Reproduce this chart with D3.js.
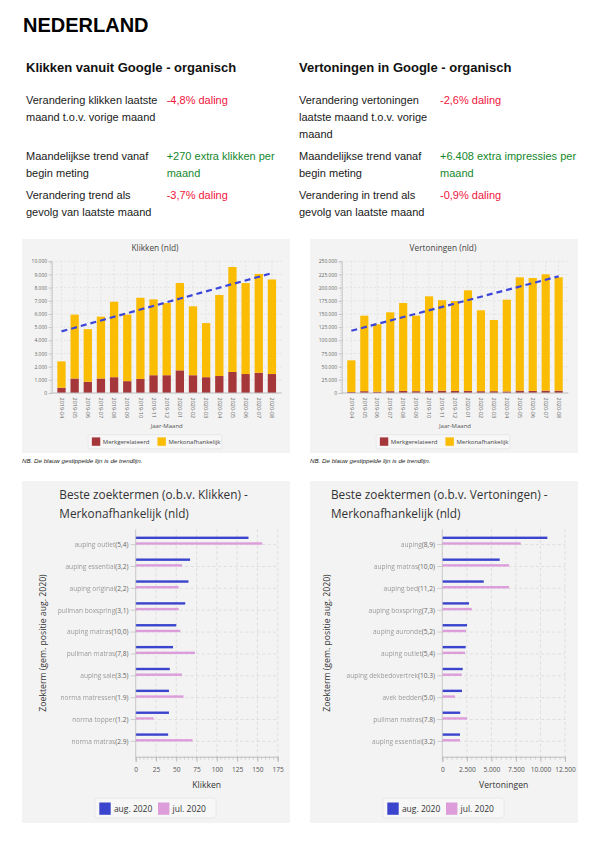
<!DOCTYPE html>
<html><head><meta charset="utf-8">
<script src="https://cdn.jsdelivr.net/npm/d3@7"></script>
<style>
html,body{margin:0;padding:0;background:#fff;}
svg{display:block;}
</style></head>
<body>
<svg id="c" width="607" height="847"></svg>
<script>
// ---------------- DATA ----------------
const pageTitle = "NEDERLAND";
const leftHeading = "Klikken vanuit Google - organisch";
const rightHeading = "Vertoningen in Google - organisch";
const leftLabels = [["Verandering klikken laatste","maand t.o.v. vorige maand"],["Maandelijkse trend vanaf","begin meting"],["Verandering trend als","gevolg van laatste maand"]];
const leftValues = [["-4,8% daling"],["+270 extra klikken per","maand"],["-3,7% daling"]];
const rightLabels = [["Verandering vertoningen","laatste maand t.o.v. vorige","maand"],["Maandelijkse trend vanaf","begin meting"],["Verandering in trend als","gevolg van laatste maand"]];
const rightValues = [["-2,6% daling"],["+6.408 extra impressies per","maand"],["-0,9% daling"]];
const valueSigns = ["neg","pos","neg"];

const months = ["2019-04","2019-05","2019-06","2019-07","2019-08","2019-09","2019-10","2019-11","2019-12","2020-01","2020-02","2020-03","2020-04","2020-05","2020-06","2020-07","2020-08"];
const clicksBrand    = [400,1100,850,1100,1200,900,1070,1350,1350,1720,1350,1200,1290,1600,1440,1540,1440];
const clicksNonBrand = [2000,4850,4000,4700,5730,5050,6160,5760,5480,6630,5230,4110,6150,7970,6910,7500,7180];
const clicksTrend    = [4680, 9100];
const imprBrand      = [2000,3500,2500,3500,4000,3500,4000,4500,4000,4000,3500,3500,3000,4500,4000,4500,4500];
const imprNonBrand   = [60000,143200,127900,149700,166800,143200,179500,171700,170600,190900,153500,135100,174100,215100,214300,220800,215100];
const imprTrend      = [118200, 221500];
const stackSeries = ["Merkgerelateerd","Merkonafhankelijk"];
const noteText = "NB. De blauw gestippelde lijn is de trendlijn.";

const kwClickTerms = ["auping outlet","auping essential","auping original","pullman boxspring","auping matras","pullman matras","auping sale","norma matressen","norma topper","norma matras"];
const kwClickPos   = ["5,4","3,2","2,2","3,1","10,0","7,8","3.5","1.9","1.2","2.9"];
const kwClickAug   = [139,67,65,61,50,46,42,41,41,40];
const kwClickJul   = [156,57,53,53,55,73,57,59,22,70];
const kwImprTerms  = ["auping","auping matras","auping bed","auping boxspring","auping auronde","auping outlet","auping dekbedovertrek","avek bedden","pullman matras","auping essential"];
const kwImprPos    = ["8,9","10,0","11,2","7,3","5,2","5,4","10.3","5.0","7.8","3.2"];
const kwImprAug    = [10700,5850,4220,2720,2520,2380,2080,2010,1830,1800];
const kwImprJul    = [7990,6800,6800,3000,2410,2310,1980,1290,2520,1800];
const periodLabels = ["aug. 2020","jul. 2020"];

// ---------------- DRAWING ----------------
const nl = d3.formatLocale({decimal:",", thousands:".", grouping:[3], currency:["",""]});
const fmt = nl.format(",");
const svg = d3.select("#c");
const defs = svg.append("defs");
defs.append("filter").attr("id","blur").attr("x","-5%").attr("y","-20%").attr("width","110%").attr("height","140%")
  .append("feGaussianBlur").attr("stdDeviation",0.45);

const ARIAL = "'Liberation Sans', Arial, sans-serif";
const SANS = "'Open Sans', 'Noto Sans', sans-serif";

svg.append("text").attr("x",23).attr("y",31.7).text(pageTitle)
  .attr("font-family",ARIAL).attr("font-weight","bold").attr("font-size",20).attr("fill","#000");

function drawTable(xl, xv, heading, labels, values) {
  svg.append("text").attr("x",xl).attr("y",71.7).text(heading)
    .attr("font-family",ARIAL).attr("font-weight","bold").attr("font-size",13).attr("fill","#111");
  const rowY = [104.3, 160.3, 199];
  const lh = 16.7;
  labels.forEach((lines,i)=>{
    lines.forEach((t,j)=>{
      svg.append("text").attr("x",xl).attr("y",rowY[i]+j*lh).text(t)
        .attr("font-family",ARIAL).attr("font-size",11).attr("fill","#1a1a1a");
    });
    values[i].forEach((t,j)=>{
      svg.append("text").attr("x",xv).attr("y",rowY[i]+j*lh).text(t)
        .attr("font-family",ARIAL).attr("font-size",11)
        .attr("fill", valueSigns[i]==="neg" ? "#f0143c" : "#16882e");
    });
  });
}
drawTable(26, 166.7, leftHeading, leftLabels, leftValues);
drawTable(299, 440, rightHeading, rightLabels, rightValues);

const C_BRAND = "#a5373a", C_NON = "#fbbc04", C_TREND = "#3c46d8";

function stackChart(cfg) {
  const g = svg.append("g");
  const [px,py,pw,ph] = cfg.panel;
  g.append("rect").attr("x",px).attr("y",py).attr("width",pw).attr("height",ph).attr("fill","#f3f3f3");
  g.append("text").attr("x",px+pw/2-1).attr("y",251.3).attr("text-anchor","middle").text(cfg.title)
    .attr("font-family",SANS).attr("font-size",8.3).attr("fill","#444");
  const x = d3.scaleBand().domain(months).range(cfg.xr).paddingInner(0.37).paddingOuter(0.43);
  const y = d3.scaleLinear().domain([0,cfg.max]).range([393,261.3]);
  const ticks = d3.range(0, cfg.max+1, cfg.step);
  // grid
  g.append("g").selectAll("line").data(ticks.slice(1)).join("line")
    .attr("x1",cfg.xr[0]).attr("x2",cfg.xr[1]).attr("y1",d=>y(d)).attr("y2",d=>y(d))
    .attr("stroke","#d9d9d9").attr("stroke-width",0.6).attr("stroke-dasharray","2,2");
  g.append("g").selectAll("line").data(months).join("line")
    .attr("x1",d=>x(d)+x.bandwidth()/2).attr("x2",d=>x(d)+x.bandwidth()/2).attr("y1",y(cfg.max)).attr("y2",y(0))
    .attr("stroke","#d9d9d9").attr("stroke-width",0.6).attr("stroke-dasharray","2,2");
  // y axis
  const ya = g.append("g").attr("transform",`translate(${cfg.xr[0]},0)`)
    .call(d3.axisLeft(y).tickValues(ticks).tickFormat(d=>fmt(d)).tickSize(3).tickPadding(1.5));
  ya.select(".domain").attr("stroke","#c4c4c4");
  ya.selectAll(".tick line").attr("stroke","#c4c4c4");
  ya.selectAll("text").attr("font-family",SANS).attr("font-size",5).attr("fill","#666");
  g.append("g").selectAll("line").data(d3.range(0,cfg.max+1,cfg.minor)).join("line")
    .attr("x1",cfg.xr[0]-1.8).attr("x2",cfg.xr[0]).attr("y1",d=>y(d)).attr("y2",d=>y(d))
    .attr("stroke","#c4c4c4").attr("stroke-width",0.5);
  // stacked bars
  const rows = months.map((m,i)=>({m, b:cfg.brand[i], n:cfg.non[i]}));
  g.append("g").selectAll("rect").data(rows).join("rect")
    .attr("x",d=>x(d.m)).attr("width",x.bandwidth())
    .attr("y",d=>y(d.b)).attr("height",d=>y(0)-y(d.b)).attr("fill",C_BRAND);
  g.append("g").selectAll("rect").data(rows).join("rect")
    .attr("x",d=>x(d.m)).attr("width",x.bandwidth())
    .attr("y",d=>y(d.b+d.n)).attr("height",d=>y(d.b)-y(d.b+d.n)).attr("fill",C_NON);
  // x axis
  const xa = g.append("g").attr("transform","translate(0,393)")
    .call(d3.axisBottom(x).tickSize(0).tickPadding(0));
  xa.select(".domain").attr("stroke","#bdbdbd").attr("d",`M${cfg.xr[0]},0H${cfg.xr[1]}`);
  xa.selectAll("text").attr("font-family",SANS).attr("font-size",5.5).attr("fill","#666")
    .attr("text-anchor","start").attr("dy","0.32em").attr("y",0).attr("x",0)
    .attr("transform","translate(0,4.5) rotate(90)");
  // trend
  const first = months[0], last = months[months.length-1];
  const tr = [{m:first,v:cfg.trend[0]},{m:last,v:cfg.trend[1]}];
  g.append("path").datum(tr)
    .attr("d", d3.line().x(d=>x(d.m)+x.bandwidth()/2).y(d=>y(d.v)))
    .attr("stroke",C_TREND).attr("stroke-width",2.2).attr("stroke-dasharray","6,4").attr("fill","none");
  // axis title
  g.append("text").attr("x",(cfg.xr[0]+cfg.xr[1])/2).attr("y",428).attr("text-anchor","middle").text("Jaar-Maand")
    .attr("font-family",SANS).attr("font-size",6).attr("fill","#555");
  // legend
  const cx = px+pw/2 - 1;
  const bw = 133.7;
  const lx = cx - bw/2;
  g.append("rect").attr("x",lx).attr("y",434.7).attr("width",bw).attr("height",14).attr("rx",1.5)
    .attr("fill","#f7f7f7").attr("stroke","#e0e0e0").attr("stroke-width",0.6);
  const items = [{t:stackSeries[0],c:C_BRAND,dx:3.7},{t:stackSeries[1],c:C_NON,dx:69.3}];
  items.forEach(it=>{
    g.append("rect").attr("x",lx+it.dx).attr("y",437.4).attr("width",8.4).attr("height",8.4).attr("fill",it.c);
    g.append("text").attr("x",lx+it.dx+11).attr("y",443.7).text(it.t)
      .attr("font-family",SANS).attr("font-size",6).attr("fill","#444");
  });
  svg.append("text").attr("x",px).attr("y",463).text(noteText)
    .attr("font-family",ARIAL).attr("font-style","italic").attr("font-size",6.2).attr("fill","#222");
}

stackChart({panel:[22,239,268,214], title:"Klikken (nld)", xr:[51.7,281.7], max:10000, step:1000, minor:200,
  brand:clicksBrand, non:clicksNonBrand, trend:clicksTrend});
stackChart({panel:[310,239,268,214], title:"Vertoningen (nld)", xr:[341.7,568.3], max:250000, step:25000, minor:5000,
  brand:imprBrand, non:imprNonBrand, trend:imprTrend});

const C_AUG = "#3b44cc", C_JUL = "#dd9ddb";

function kwChart(cfg) {
  const g = svg.append("g");
  const [px,py,pw,ph] = cfg.panel;
  g.append("rect").attr("x",px).attr("y",py).attr("width",pw).attr("height",ph).attr("fill","#f3f3f3");
  cfg.titleLines.forEach((t,i)=>{
    g.append("text").attr("x",cfg.titleX).attr("y",499.3+i*18.4).text(t)
      .attr("font-family",SANS).attr("font-size",11.8).attr("fill","#333");
  });
  const top = 529.3, bot = 756.7;
  const y = d3.scaleBand().domain(cfg.terms).range([top,bot]).paddingOuter(0.2).paddingInner(0);
  const x = d3.scaleLinear().domain([0,cfg.max]).range(cfg.xr);
  const ticks = d3.range(0,cfg.max+1,cfg.step);
  const cy = d => y(d)+y.bandwidth()/2;
  // grid
  g.append("g").selectAll("line").data(ticks.slice(1)).join("line")
    .attr("x1",d=>x(d)).attr("x2",d=>x(d)).attr("y1",top).attr("y2",bot)
    .attr("stroke","#d6d6d6").attr("stroke-width",0.7).attr("stroke-dasharray","3,2.5");
  g.append("g").selectAll("line").data(cfg.terms).join("line")
    .attr("x1",cfg.xr[0]).attr("x2",cfg.xr[1]).attr("y1",d=>cy(d)).attr("y2",d=>cy(d))
    .attr("stroke","#d6d6d6").attr("stroke-width",0.7).attr("stroke-dasharray","3,2.5");
  // bars
  const rows = cfg.terms.map((t,i)=>({t, a:cfg.aug[i], j:cfg.jul[i]}));
  g.append("g").selectAll("rect").data(rows).join("rect")
    .attr("x",x(0)).attr("y",d=>cy(d.t)-8).attr("height",2.4).attr("width",d=>x(d.a)-x(0)).attr("fill",C_AUG);
  g.append("g").selectAll("rect").data(rows).join("rect")
    .attr("x",x(0)).attr("y",d=>cy(d.t)-2.3).attr("height",2.4).attr("width",d=>x(d.j)-x(0)).attr("fill",C_JUL);
  // y axis
  g.append("line").attr("x1",x(0)).attr("x2",x(0)).attr("y1",top).attr("y2",bot).attr("stroke","#bdbdbd").attr("stroke-width",0.8);
  g.append("g").selectAll("line").data(cfg.terms).join("line")
    .attr("x1",x(0)-5).attr("x2",x(0)).attr("y1",d=>cy(d)).attr("y2",d=>cy(d)).attr("stroke","#bdbdbd").attr("stroke-width",0.7);
  rows.forEach((d,i)=>{
    const num = g.append("text").attr("x",x(0)-7.3).attr("y",cy(d.t)+2.3).attr("text-anchor","end")
      .text("("+cfg.pos[i]+")").attr("font-family",SANS).attr("font-size",6.6).attr("fill","#666");
    const w = num.node().getComputedTextLength();
    g.append("text").attr("x",x(0)-7.3-w).attr("y",cy(d.t)+2.3).attr("text-anchor","end")
      .text(d.t).attr("font-family",SANS).attr("font-size",6.6).attr("fill","#9a9a9a").attr("filter","url(#blur)");
  });
  // x axis
  const xa = g.append("g").attr("transform",`translate(0,${bot})`)
    .call(d3.axisBottom(x).tickValues(ticks).tickFormat(d=>fmt(d)).tickSize(5).tickPadding(5.5));
  xa.select(".domain").attr("stroke","#bdbdbd");
  xa.selectAll(".tick line").attr("stroke","#bdbdbd");
  xa.selectAll("text").attr("font-family",SANS).attr("font-size",6.6).attr("fill","#555");
  g.append("g").selectAll("line").data(d3.range(0,cfg.max+1,cfg.minor)).join("line")
    .attr("x1",d=>x(d)).attr("x2",d=>x(d)).attr("y1",bot).attr("y2",bot+3).attr("stroke","#bdbdbd").attr("stroke-width",0.6);
  g.append("text").attr("x",(cfg.xr[0]+cfg.xr[1])/2).attr("y",787.7).attr("text-anchor","middle").text(cfg.xTitle)
    .attr("font-family",SANS).attr("font-size",8.6).attr("fill","#333");
  g.append("text").attr("transform",`translate(${cfg.yTitleX},${(top+bot)/2}) rotate(-90)`).attr("text-anchor","middle")
    .text("Zoekterm (gem. positie aug. 2020)").attr("font-family",SANS).attr("font-size",8.7).attr("fill","#333");
  // legend
  const lx = px+pw/2 - 61;
  g.append("rect").attr("x",lx).attr("y",798).attr("width",121).attr("height",20).attr("rx",2)
    .attr("fill","#f7f7f7").attr("stroke","#e2e2e2").attr("stroke-width",0.7);
  [{t:periodLabels[0],c:C_AUG,dx:4.3},{t:periodLabels[1],c:C_JUL,dx:63}].forEach(it=>{
    g.append("rect").attr("x",lx+it.dx).attr("y",802.5).attr("width",11.4).attr("height",12.3).attr("fill",it.c);
    g.append("text").attr("x",lx+it.dx+14.6).attr("y",811.8).text(it.t)
      .attr("font-family",SANS).attr("font-size",8.5).attr("fill","#333");
  });
}

kwChart({panel:[22,481,268,342], titleX:59.3, titleLines:["Beste zoektermen (o.b.v. Klikken) -","Merkonafhankelijk (nld)"],
  terms:kwClickTerms, pos:kwClickPos, aug:kwClickAug, jul:kwClickJul, max:175, step:25, minor:5,
  xr:[135.7,277.7], xTitle:"Klikken", yTitleX:45.5});
kwChart({panel:[310,481,268,342], titleX:331, titleLines:["Beste zoektermen (o.b.v. Vertoningen) -","Merkonafhankelijk (nld)"],
  terms:kwImprTerms, pos:kwImprPos, aug:kwImprAug, jul:kwImprJul, max:12500, step:2500, minor:500,
  xr:[442.3,565], xTitle:"Vertoningen", yTitleX:330});
</script>
</body></html>
